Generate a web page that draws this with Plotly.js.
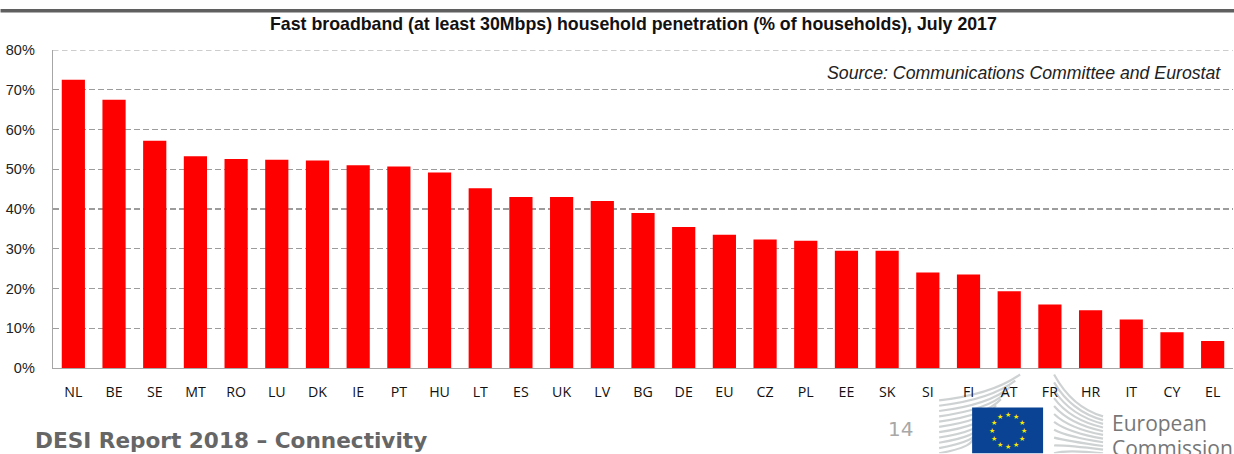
<!DOCTYPE html>
<html><head><meta charset="utf-8">
<script src="https://cdn.plot.ly/plotly-3.0.1.min.js"></script>
<style>html,body{margin:0;padding:0;background:#fff;overflow:hidden}#c{width:1234px;height:454px}</style>
</head><body><div id="c"></div>
<script>
var categories=["NL","BE","SE","MT","RO","LU","DK","IE","PT","HU","LT","ES","UK","LV","BG","DE","EU","CZ","PL","EE","SK","SI","FI","AT","FR","HR","IT","CY","EL"];
var penetration=[72.5,67.5,57.2,53.3,52.6,52.4,52.2,51,50.7,49.2,45.2,43,43,42,39,35.5,33.5,32.3,32,29.5,29.5,24,23.5,19.3,16,14.5,12.2,9,6.8];
var yTicks=[0,10,20,30,40,50,60,70,80];
var W=1234,H=454,L=52.5,R=1233,T=50,B=368.5;
var gridDash='5.5px,3.5px',gridColor='#9c9c9c';
function px(x){return (x-L)/(R-L)}
function py(y){return (B-y)/(B-T)}
var wings='';
var nLines=11;
for(var i=0;i<nLines;i++){
 var t=i/(nLines-1);
 wings+='<path d="M939 '+(401+t*53)+' Q '+(992-t*15)+' '+(395+t*52)+' '+(1020-t*48)+' '+(375+t*62)+'"/>';
 wings+='<path d="M1103 '+(417+t*37)+' Q '+(1072-t*6)+' '+(408+t*42)+' '+(1054)+' '+(375+t*79)+'"/>';
}
var svg='<svg xmlns="http://www.w3.org/2000/svg" width="1234" height="454" viewBox="0 0 1234 454"><g fill="none" stroke="#cfd2d3" stroke-width="2.2">'+wings+'</g></svg>';
var logo='data:image/svg+xml;utf8,'+encodeURIComponent(svg);
var shapes=[
 {type:'rect',xref:'paper',yref:'paper',x0:px(0),x1:px(1234),y0:py(12.5),y1:py(9),fillcolor:'#5f5f5f',line:{width:0},layer:'below'},
 {type:'rect',xref:'paper',yref:'paper',x0:px(972),x1:px(1043),y0:py(454),y1:py(408),fillcolor:'#0b4394',line:{width:0},layer:'below'},
 {type:'line',xref:'paper',yref:'y',x0:0,x1:1,y0:80,y1:80,line:{color:gridColor,width:1.2,dash:gridDash},layer:'below'}
];
var annotations=[
 {text:'<b>Fast broadband (at least 30Mbps) household penetration (% of households), July 2017</b>',xref:'paper',yref:'paper',x:px(633.5),y:py(24),xanchor:'center',yanchor:'middle',showarrow:false,font:{family:'Liberation Sans',size:17.75,color:'#111'}},
 {text:'<i>Source: Communications Committee and Eurostat</i>',xref:'paper',yref:'paper',x:px(1222.5),y:py(73),xanchor:'right',yanchor:'middle',showarrow:false,font:{family:'Liberation Sans',size:17.7,color:'#222'}},
 {text:'<b>DESI Report 2018 – Connectivity</b>',xref:'paper',yref:'paper',x:px(32.5),y:py(441),xanchor:'left',yanchor:'middle',showarrow:false,font:{family:'DejaVu Sans',size:21.6,color:'#666'}},
 {text:'14',xref:'paper',yref:'paper',x:px(900),y:py(430),xanchor:'center',yanchor:'middle',showarrow:false,font:{family:'DejaVu Sans',size:20,color:'#a8a8a8'}},
 {text:'European',xref:'paper',yref:'paper',x:px(1110),y:py(424),xanchor:'left',yanchor:'middle',showarrow:false,font:{family:'Open Sans',size:21,color:'#777'}},
 {text:'Commission',xref:'paper',yref:'paper',x:px(1110),y:py(449),xanchor:'left',yanchor:'middle',showarrow:false,font:{family:'Open Sans',size:21,color:'#777'}}
];
for(var s=0;s<12;s++){
 var a=s*Math.PI/6;
 annotations.push({text:'★',xref:'paper',yref:'paper',x:px(1007.7+16*Math.sin(a)),y:py(431.5-16*Math.cos(a)),xanchor:'center',yanchor:'middle',showarrow:false,font:{family:'DejaVu Sans',size:7,color:'#ffe600'}});
}
Plotly.newPlot('c',[{
 type:'bar',x:categories,y:penetration,marker:{color:'#ff0000',line:{width:0}},hoverinfo:'skip'
}],{
 width:W,height:H,autosize:false,showlegend:false,
 paper_bgcolor:'rgba(0,0,0,0)',plot_bgcolor:'rgba(0,0,0,0)',
 margin:{l:L,r:W-R,t:T,b:H-B,pad:0},
 bargap:0.43,
 xaxis:{type:'category',categoryorder:'array',categoryarray:categories,range:[-0.5,28.5],showgrid:false,zeroline:false,showline:true,linecolor:'#a6a6a6',linewidth:1.3,ticks:'',ticklabelstandoff:11,tickfont:{family:'Open Sans, Noto Sans',size:14.2,color:'#111'},fixedrange:true},
 yaxis:{range:[0,80],tickmode:'array',tickvals:yTicks,ticktext:yTicks.map(function(v){return v+'%'}),showgrid:true,griddash:gridDash,gridcolor:gridColor,gridwidth:1.2,zeroline:false,showline:true,linecolor:'#a6a6a6',linewidth:1.3,ticks:'',tickfont:{family:'Liberation Sans',size:14.5,color:'#222'},ticklabelstandoff:14,fixedrange:true},
 shapes:shapes,annotations:annotations,
 images:[{source:logo,xref:'paper',yref:'paper',x:px(0),y:py(0),sizex:W/(R-L),sizey:H/(B-T),sizing:'stretch',xanchor:'left',yanchor:'top',layer:'below'}]
},{displayModeBar:false,staticPlot:true});
</script></body></html>
